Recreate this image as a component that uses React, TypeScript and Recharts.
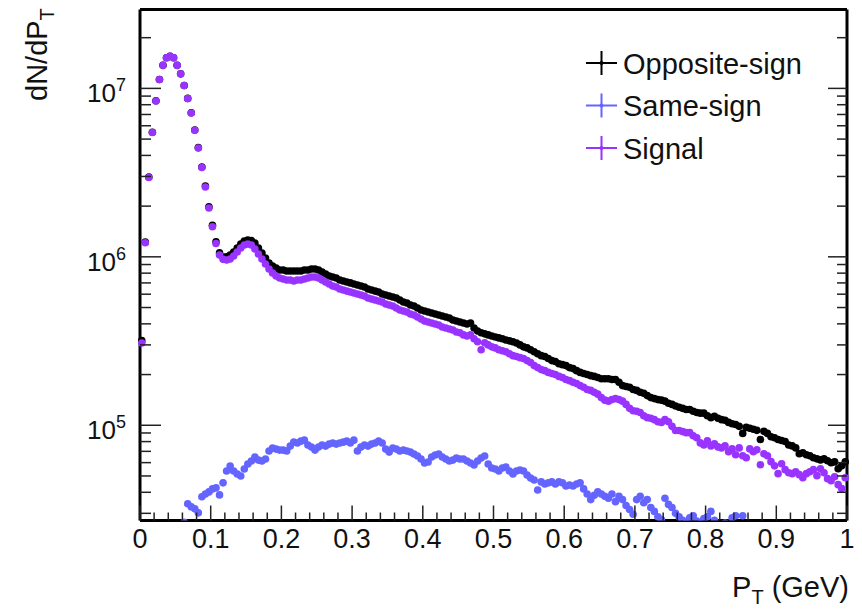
import React from 'react';
import { ScatterChart, Scatter, XAxis, YAxis, Legend } from 'recharts';

// pair pT spectra, 200 bins of 5 MeV from 0 to 1 GeV; dN/dPT given in units of 1e3
const BIN_WIDTH = 0.005;

const OPPOSITE_SIGN = [
  318, 1225, 2975, 5490, 8440, 11300, 13700, 15200, 15500, 15200,
  13700, 12200, 10400, 8720, 7170, 5660, 4450, 3410, 2630, 1980,
  1540, 1230, 1055, 998, 1000, 1025, 1068, 1128, 1191, 1241,
  1258, 1250, 1207, 1128, 1053, 985, 919, 882, 858, 835,
  835, 824, 824, 824, 824, 824, 835, 835, 847, 847,
  835, 813, 791, 770, 759, 749, 729, 719, 709, 700,
  690, 681, 671, 662, 644, 635, 626, 618, 602, 593,
  585, 577, 570, 554, 539, 532, 518, 511, 497, 483,
  477, 470, 464, 458, 451, 445, 439, 433, 422, 416,
  410, 405, 399, 405, 378, 363, 354, 349, 344, 339,
  334, 330, 326, 321, 317, 313, 308, 300, 292, 288,
  281, 273, 266, 259, 256, 249, 242, 239, 232, 229,
  226, 220, 217, 211, 206, 203, 200, 197, 195, 192,
  189, 189, 189, 187, 187, 180, 172, 170, 168, 163,
  161, 157, 155, 150, 146, 144, 142, 141, 139, 135,
  133, 130, 128, 126, 124, 124, 121, 119, 118, 118,
  114, 111, 113, 110, 108, 107, 104, 102, 101, 98.5,
  89.5, 97.2, 95.9, 94.6, 93.3, 82.3, 92.0, 89.5, 85.4, 84.3,
  82.3, 81.2, 80.1, 76.4, 75.4, 73.4, 67.7, 68.7, 66.8, 65.9,
  64.1, 63.2, 62.3, 63.2, 61.5, 59.9, 60.6, 55.2, 57.4, 60.6,
];

const SAME_SIGN = [
  3.9, 6.2, 8.1, 10.4, 12.0, 14.3, 15.8, 18.1, 19.4, 21.2,
  22.3, 23.8, 26.5, 34.2, 32.8, 31.9, 30.2, 37.6, 39.1, 40.2,
  41.9, 42.5, 38.6, 45.5, 53.5, 57.3, 53.5, 51.4, 50.0, 55.0,
  58.9, 61.3, 64.8, 62.1, 61.3, 63.0, 70.3, 73.2, 72.2, 71.2,
  71.2, 70.3, 75.2, 79.4, 78.4, 80.5, 81.6, 76.3, 74.2, 71.2,
  74.2, 76.3, 75.2, 77.3, 78.4, 77.3, 78.4, 79.4, 80.5, 78.4,
  81.6, 70.3, 74.2, 76.3, 75.2, 77.3, 78.4, 80.5, 78.4, 72.2,
  69.3, 73.2, 72.2, 70.3, 71.2, 70.3, 69.3, 67.5, 65.7, 63.0,
  59.7, 60.5, 64.8, 66.6, 67.5, 64.8, 63.0, 61.3, 62.1, 63.9,
  63.0, 63.0, 61.3, 59.7, 58.1, 61.3, 63.9, 65.7, 58.9, 55.8,
  55.0, 53.5, 55.8, 56.5, 53.5, 51.4, 53.5, 54.2, 53.5, 50.7,
  48.6, 47.3, 41.3, 46.1, 44.8, 45.5, 46.1, 44.8, 46.1, 45.5,
  43.6, 44.2, 43.6, 44.8, 45.5, 41.9, 39.1, 36.2, 38.4, 40.2,
  39.1, 37.9, 36.9, 39.1, 35.2, 37.9, 36.2, 33.4, 31.6, 29.6,
  36.2, 37.9, 34.7, 36.2, 32.5, 30.8, 28.6, 27.6, 36.9, 33.9,
  32.5, 30.0, 28.6, 27.3, 26.3, 28.2, 29.0, 27.0, 26.0, 27.9,
  28.6, 30.8, 27.3, 25.4, 24.7, 26.3, 24.1, 28.2, 29.0, 24.7,
  29.0, 24.7, 23.8, 24.2, 22.9, 23.5, 22.1, 22.6, 21.4, 21.9,
  20.8, 21.3, 20.2, 19.7, 20.4, 19.1, 18.6, 19.3, 18.2, 17.6,
  18.0, 17.1, 16.8, 17.3, 16.2, 15.9, 16.4, 15.5, 15.1, 15.6,
];

const SIGNAL = [
  308, 1212, 2960, 5470, 8420, 11300, 13700, 15200, 15500, 15200,
  13700, 12200, 10400, 8700, 7150, 5640, 4430, 3390, 2600, 1950,
  1510, 1200, 1025, 966, 957, 971, 1011, 1068, 1128, 1175,
  1191, 1175, 1112, 1039, 971, 906, 847, 802, 770, 749,
  739, 729, 729, 719, 729, 729, 739, 749, 759, 759,
  749, 729, 709, 690, 671, 662, 644, 635, 626, 618,
  610, 602, 593, 585, 570, 562, 554, 547, 539, 525,
  518, 511, 497, 483, 477, 470, 458, 451, 439, 427,
  416, 410, 405, 399, 394, 383, 378, 373, 368, 358,
  354, 344, 339, 344, 326, 313, 281, 309, 300, 292,
  288, 281, 277, 273, 266, 259, 256, 252, 249, 242,
  236, 226, 220, 214, 211, 206, 203, 200, 195, 192,
  187, 184, 180, 177, 172, 168, 163, 161, 157, 153,
  146, 141, 139, 142, 144, 142, 139, 133, 126, 122,
  121, 119, 114, 111, 110, 108, 105, 104, 108, 105,
  98.5, 93.0, 93.0, 91.7, 90.4, 90.4, 86.6, 84.3, 78.6, 76.4,
  80.9, 75.4, 77.5, 74.4, 73.4, 75.4, 69.6, 72.4, 66.8, 73.4,
  65.9, 64.1, 72.4, 69.6, 71.5, 58.3, 67.7, 65.9, 60.8, 57.4,
  51.6, 59.1, 54.5, 52.3, 51.6, 53.0, 50.9, 48.8, 51.6, 53.0,
  54.5, 50.2, 55.2, 52.3, 48.2, 46.9, 49.5, 44.4, 42.1, 48.8,
];

const X_MAJOR_TICKS = [0, 0.1, 0.2, 0.3, 0.4, 0.5, 0.6, 0.7, 0.8, 0.9, 1];
const X_MAJOR_LABELS = ['0', '0.1', '0.2', '0.3', '0.4', '0.5', '0.6', '0.7', '0.8', '0.9', '1'];
const X_MINOR_DIVISIONS = 5;
const Y_MAJOR_TICKS = [1e5, 1e6, 1e7];
const Y_MAJOR_EXPONENTS = ['5', '6', '7'];
const Y_MINOR_TICKS = [
  3e4, 4e4, 5e4, 6e4, 7e4, 8e4, 9e4,
  2e5, 3e5, 4e5, 5e5, 6e5, 7e5, 8e5, 9e5,
  2e6, 3e6, 4e6, 5e6, 6e6, 7e6, 8e6, 9e6,
  2e7,
];
const Y_DOMAIN: [number, number] = [2.72e4, 2.94e7];

const SERIES = [
  { name: 'Opposite-sign', values: OPPOSITE_SIGN, color: '#000000' },
  { name: 'Same-sign', values: SAME_SIGN, color: '#6464ff' },
  { name: 'Signal', values: SIGNAL, color: '#9933ff' },
];

const FONT = '"Liberation Sans", Arial, Helvetica, sans-serif';
const TEXT_COLOR = '#111';
const TICK_COLOR = '#222';
const FRAME = { stroke: '#000', strokeWidth: 3 };

const toRows = (values: number[]) =>
  values.map((v, i) => ({ pt: (i + 0.5) * BIN_WIDTH, v: v * 1e3 }));

const X_TICKS: number[] = [];
X_MAJOR_TICKS.slice(0, -1).forEach((t, k) => {
  const step = (X_MAJOR_TICKS[k + 1] - t) / X_MINOR_DIVISIONS;
  for (let j = 0; j < X_MINOR_DIVISIONS; j++) X_TICKS.push(+(t + j * step).toFixed(3));
});
X_TICKS.push(X_MAJOR_TICKS[X_MAJOR_TICKS.length - 1]);

const Y_TICKS = [...Y_MINOR_TICKS, ...Y_MAJOR_TICKS].sort((a, b) => a - b);

const xMajorIndex = (v: number) => X_MAJOR_TICKS.findIndex(t => Math.abs(t - v) < 1e-6);
const yMajorIndex = (v: number) => Y_MAJOR_TICKS.indexOf(v);

const BottomTick = ({ x, y, payload }: any) => {
  const k = xMajorIndex(payload.value);
  return (
    <g>
      <line x1={x} x2={x} y1={y} y2={y - (k >= 0 ? 15 : 8)} stroke={TICK_COLOR} strokeWidth={1.5} />
      {k >= 0 && (
        <text x={x} y={y + 27} textAnchor="middle" fontSize={27} fontFamily={FONT} fill={TEXT_COLOR}>
          {X_MAJOR_LABELS[k]}
        </text>
      )}
    </g>
  );
};

const TopTick = ({ x, y, payload }: any) => {
  const k = xMajorIndex(payload.value);
  return <line x1={x} x2={x} y1={y} y2={y + (k >= 0 ? 15 : 8)} stroke={TICK_COLOR} strokeWidth={1.5} />;
};

const LeftTick = ({ x, y, payload }: any) => {
  const k = yMajorIndex(payload.value);
  return (
    <g>
      <line x1={x} x2={x + (k >= 0 ? 21 : 11)} y1={y} y2={y} stroke={TICK_COLOR} strokeWidth={1.5} />
      {k >= 0 && (
        <text x={x - 14} y={y + 14} textAnchor="end" fontSize={26} fontFamily={FONT} fill={TEXT_COLOR}>
          10<tspan dy={-11} fontSize={18}>{Y_MAJOR_EXPONENTS[k]}</tspan>
        </text>
      )}
    </g>
  );
};

const RightTick = ({ x, y, payload }: any) => {
  const k = yMajorIndex(payload.value);
  return <line x1={x} x2={x - (k >= 0 ? 19 : 10)} y1={y} y2={y} stroke={TICK_COLOR} strokeWidth={1.5} />;
};

const XTitle = ({ viewBox }: any) => (
  <text
    x={viewBox.x + viewBox.width + 2}
    y={viewBox.y + 76}
    textAnchor="end"
    fontSize={29}
    fontFamily={FONT}
    fill={TEXT_COLOR}
  >
    P<tspan dy={7} fontSize={20}>T</tspan>
    <tspan dy={-7} fontSize={29}> (GeV)</tspan>
  </text>
);

const YTitle = () => (
  <text
    transform="translate(46.5, 101) rotate(-90)"
    fontSize={29}
    fontFamily={FONT}
    fill={TEXT_COLOR}
  >
    dN/dP<tspan dy={7} fontSize={20}>T</tspan>
  </text>
);

const LegendBox = () => (
  <svg width={270} height={135}>
    {SERIES.map((s, i) => {
      const cy = 25 + i * 42.5;
      return (
        <g key={s.name}>
          <line x1={11} x2={42} y1={cy} y2={cy} stroke={s.color} strokeWidth={2} />
          <line x1={26.5} x2={26.5} y1={cy - 12} y2={cy + 12} stroke={s.color} strokeWidth={2} />
          <circle cx={26.5} cy={cy} r={2} fill={s.color} />
          <text x={48} y={cy + 10.5} fontSize={29} fontFamily={FONT} fill={TEXT_COLOR}>
            {s.name}
          </text>
        </g>
      );
    })}
  </svg>
);

const marker = (color: string) => (props: any) =>
  <circle cx={props.cx} cy={props.cy} r={3.8} fill={color} />;

export default function App() {
  return (
    <div style={{ position: 'absolute', left: 0, top: 0, width: 862, height: 609, background: '#fff' }}>
      <ScatterChart width={862} height={609} margin={{ top: 0, right: 0, bottom: 0, left: 0 }}>
        <XAxis
          dataKey="pt"
          type="number"
          domain={[0, 1]}
          ticks={X_TICKS}
          interval={0}
          tick={BottomTick}
          tickLine={false}
          tickSize={0}
          tickMargin={0}
          axisLine={FRAME}
          height={88.5}
          label={{ content: XTitle }}
        />
        <XAxis
          xAxisId="top"
          orientation="top"
          type="number"
          domain={[0, 1]}
          ticks={X_TICKS}
          interval={0}
          tick={TopTick}
          tickLine={false}
          tickSize={0}
          tickMargin={0}
          axisLine={FRAME}
          height={9.5}
        />
        <YAxis
          dataKey="v"
          type="number"
          scale="log"
          domain={Y_DOMAIN}
          allowDataOverflow
          ticks={Y_TICKS}
          interval={0}
          tick={LeftTick}
          tickLine={false}
          tickSize={0}
          tickMargin={0}
          axisLine={FRAME}
          width={140}
          label={{ content: YTitle }}
        />
        <YAxis
          yAxisId="right"
          orientation="right"
          type="number"
          scale="log"
          domain={Y_DOMAIN}
          allowDataOverflow
          ticks={Y_TICKS}
          interval={0}
          tick={RightTick}
          tickLine={false}
          tickSize={0}
          tickMargin={0}
          axisLine={FRAME}
          width={15}
        />
        {SERIES.map(s => (
          <Scatter
            key={s.name}
            name={s.name}
            data={toRows(s.values)}
            fill={s.color}
            shape={marker(s.color)}
            isAnimationActive={false}
          />
        ))}
        <Legend
          layout="vertical"
          align="center"
          verticalAlign="middle"
          content={LegendBox}
          wrapperStyle={{ left: 575, top: 38, width: 270, height: 135 }}
        />
      </ScatterChart>
    </div>
  );
}
